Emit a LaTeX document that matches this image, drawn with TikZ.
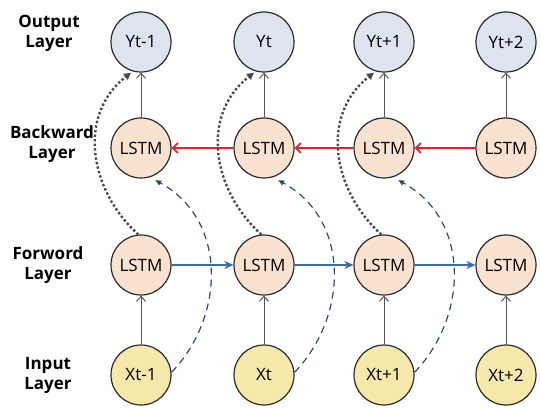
\documentclass[tikz,border=0pt]{standalone}
\usepackage{fontspec}
\setmainfont{Open Sans}
\usetikzlibrary{arrows.meta,calc}
\definecolor{outfill}{HTML}{DDE4F0}
\definecolor{lstmfill}{HTML}{F9E2D0}
\definecolor{infill}{HTML}{F6E8AB}
\definecolor{edgegray}{HTML}{2A2A2A}
\definecolor{vgray}{HTML}{555555}
\definecolor{fwdblue}{HTML}{3A6BAE}
\definecolor{bwdred}{HTML}{E82128}
\definecolor{dashnavy}{HTML}{2C4A6E}
\definecolor{dotgray}{HTML}{4A4A4A}
\begin{document}
\begin{tikzpicture}[x=1pt,y=-1pt,
  cell/.style={circle,draw=edgegray,line width=1.2pt,minimum size=60pt,inner sep=0pt,font=\fontsize{17}{18}\selectfont},
  outcell/.style={cell,fill=outfill},
  lstmcell/.style={cell,fill=lstmfill},
  incell/.style={cell,fill=infill},
  layerlabel/.style={align=center,font=\bfseries\fontsize{17}{20}\selectfont},
  vert/.style={draw=vgray,line width=1pt,-{Straight Barb[length=5pt,width=9pt]}},
  fwd/.style={draw=fwdblue,line width=1.6pt,-{Stealth[length=9pt,width=8pt]}},
  bwd/.style={draw=bwdred,line width=1.8pt,-{Straight Barb[length=5pt,width=10pt,line width=1.8pt]}},
  dotarr/.style={draw=dotgray,line width=2.4pt,dash pattern=on 2.4pt off 2.2pt,-{Triangle[length=7pt,width=7pt]}},
  dasharr/.style={draw=dashnavy,line width=1.2pt,dash pattern=on 7pt off 5pt,-{Triangle[length=6pt,width=5pt]}}
]
\useasboundingbox (0,0) rectangle (541,409);

\node[layerlabel] (lo) at (49,33) {Output\\Layer};
\node[layerlabel] (lb) at (52,144) {Backward\\Layer};
\node[layerlabel] (lf) at (48,265) {Forword\\Layer};
\node[layerlabel] (li) at (48,375) {Input\\Layer};

\foreach \i/\x/\o/\n in {1/141/Yt-1/Xt-1, 2/264/Yt/Xt, 3/384/Yt+1/Xt+1, 4/506/Yt+2/Xt+2} {
  \node[outcell] (o\i) at (\x,42) {\o};
  \node[lstmcell] (b\i) at (\x,148) {LSTM};
  \node[lstmcell] (f\i) at (\x,265) {LSTM};
  \node[incell] (in\i) at (\x,375) {\n};
  \draw[vert] (in\i) -- (f\i);
  \draw[vert] (b\i) -- (o\i);
}

\draw[fwd] (f1) -- (f2);
\draw[fwd] (f2) -- (f3);
\draw[fwd] (f3) -- (f4);
\draw[bwd] (b4) -- (b3);
\draw[bwd] (b3) -- (b2);
\draw[bwd] (b2) -- (b1);

\foreach \i in {1,2,3} {
  \draw[dotarr,shorten >=2pt] (f\i.95) .. controls ($(f\i)+(-52,-75)$) and ($(o\i)+(-64,73)$) .. (o\i.254);
  \draw[dasharr,shorten >=6pt] (in\i.5) .. controls ($(in\i)+(84,-58)$) and ($(b\i)+(87,72)$) .. (b\i.287);
}
\end{tikzpicture}
\end{document}
